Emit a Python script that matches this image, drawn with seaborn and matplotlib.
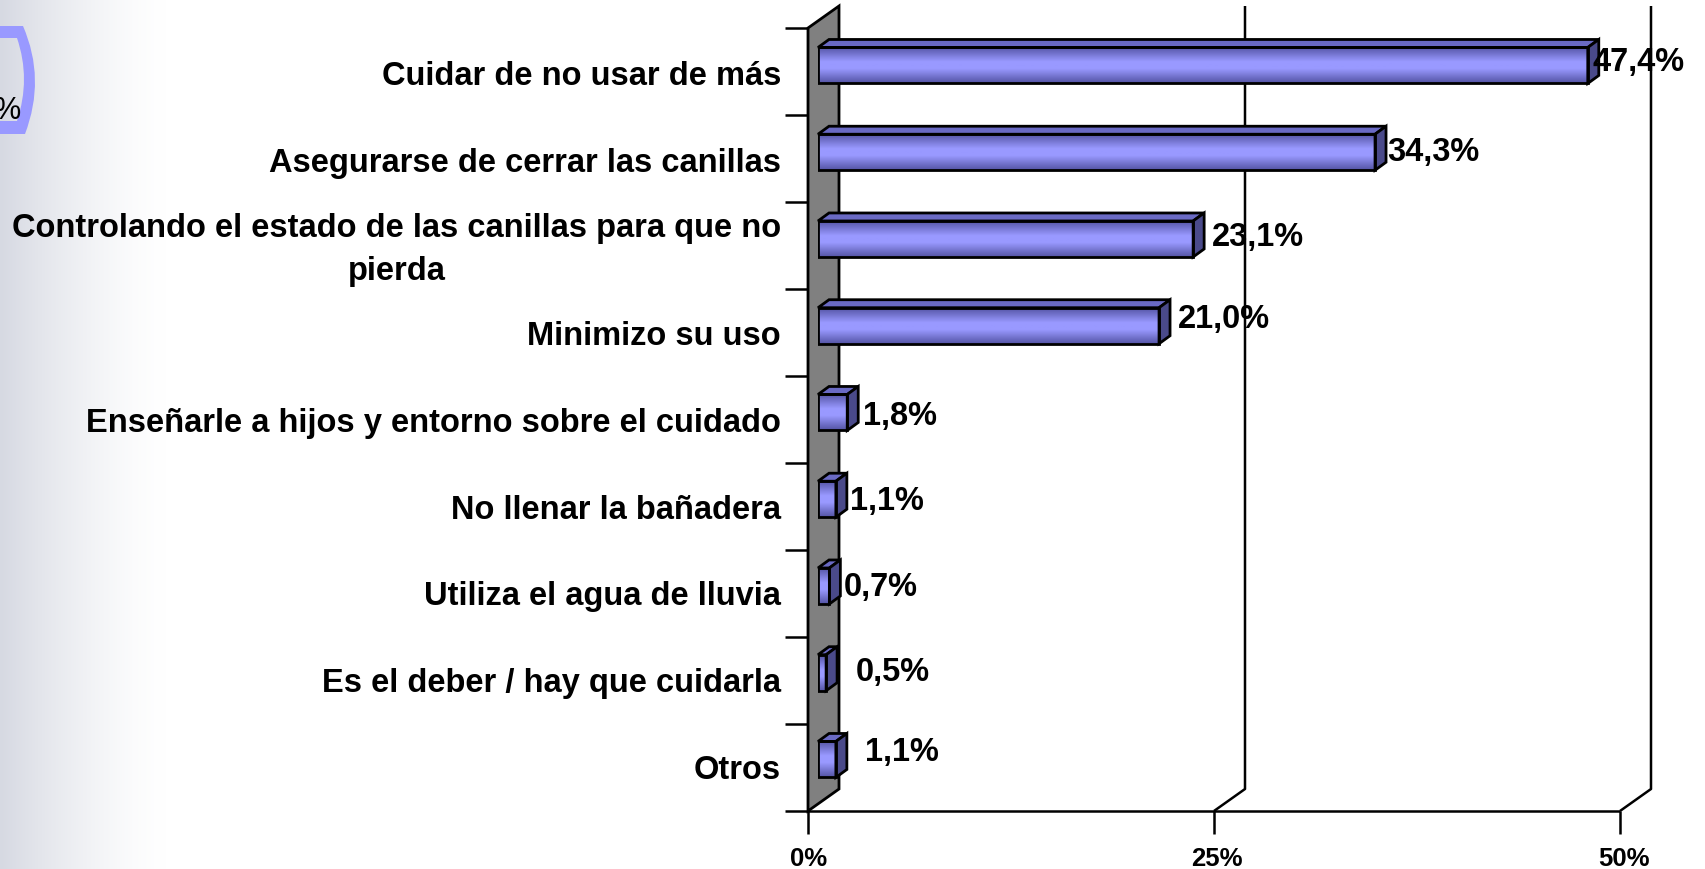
import numpy as np
import pandas as pd
import matplotlib
matplotlib.use('Agg')
import matplotlib.pyplot as plt
from matplotlib.colors import LinearSegmentedColormap
from matplotlib.patches import PathPatch, Polygon
from matplotlib.path import Path
from matplotlib.transforms import ScaledTranslation
import seaborn as sns

# Data
categorias = ['Cuidar de no usar de más',
              'Asegurarse de cerrar las canillas',
              'Controlando el estado de las canillas para que no\npierda',
              'Minimizo su uso',
              'Enseñarle a hijos y entorno sobre el cuidado',
              'No llenar la bañadera',
              'Utiliza el agua de lluvia',
              'Es el deber / hay que cuidarla',
              'Otros']
valores = [47.4, 34.3, 23.1, 21.0, 1.8, 1.1, 0.7, 0.5, 1.1]
etiquetas = ['47,4%', '34,3%', '23,1%', '21,0%', '1,8%', '1,1%', '0,7%', '0,5%', '1,1%']
ticks_x = [0, 25, 50]
ticks_x_labels = ['0%', '25%', '50%']

# Layout, in pixels of the 1706x870 figure
W, H = 1706, 870
BASE_X = 818
PX_PER_PCT = 16.24
TOP_Y, PASO = 23.1, 86.75
DX, DY = 11, 8
WALL_FRONT, WALL_BACK = -10, 21

# nudges of the value labels from the bar end (px)
label_dx = [5, 12, 19, 19, 16, 14, 14, 30, 29]
label_dy = [-3.5, -1, -2, -7, 3, 1, 1, -1, -7.5]
tick_dx = [-9, -7, -6]
cat_dy = [-6.5, -6.5, -1, -6.5, -6.5, -6.5, -6.5, -6.5, -6.5]

sns.set_theme(style='white')
plt.rcParams['font.family'] = ['Liberation Sans', 'DejaVu Sans']
plt.rcParams['font.weight'] = 'bold'

fig = plt.figure(figsize=(W / 100, H / 100), dpi=100)

# background fade on the left side
bg = fig.add_axes([0, 0, 1, 1], zorder=0)
bg.axis('off')
fade = 1 - (1 - np.linspace(0, 1, 256).reshape(1, -1)) ** 1.5
bg.imshow(fade, cmap=LinearSegmentedColormap.from_list('f', ['#d6d9e2', '#ffffff']),
          extent=(0, 170, H, 0), aspect='auto', vmin=0, vmax=1)
bg.set_xlim(0, W)
bg.set_ylim(H, 0)

# piece of the neighbour graphic cut by the left edge
verts = [(0, 27), (23, 27), (46, 80), (25, 135), (0, 135), (0, 122), (17, 122), (31, 80), (17, 39), (0, 39), (0, 27)]
codes = [Path.MOVETO, Path.LINETO, Path.CURVE3, Path.CURVE3, Path.LINETO, Path.LINETO, Path.LINETO,
         Path.CURVE3, Path.CURVE3, Path.LINETO, Path.CLOSEPOLY]
bg.add_patch(PathPatch(Path(verts, codes), fc='#9999ff', ec='none'))
bg.text(21, 111, '%', fontsize=22, ha='right', va='center', color='black', fontweight='normal')

ax = fig.add_axes([BASE_X / W, 1 - (TOP_Y + 9 * PASO) / H, 50 * PX_PER_PCT / W, 9 * PASO / H], zorder=1)
ax.patch.set_alpha(0)

df = pd.DataFrame({'categoria': categorias, 'valor': valores})
sns.barplot(data=df, x='valor', y='categoria', orient='h', color='#9999ff', width=36 / PASO,
            edgecolor='black', linewidth=2, saturation=1, ax=ax, zorder=5)
barras = list(ax.containers[0])
ax.set_xlabel('')
ax.set_ylabel('')
sns.despine(ax=ax, left=True, bottom=True, top=True, right=True)

px = 1 / PX_PER_PCT
py = 1 / PASO
frame_y0 = (29 - TOP_Y) * py - 0.5
frame_y1 = (812 - TOP_Y) * py - 0.5

# side wall
wall = [(WALL_FRONT * px, frame_y0), (WALL_BACK * px, frame_y0 - 22 * py),
        (WALL_BACK * px, frame_y1 - 22 * py), (WALL_FRONT * px, frame_y1)]
ax.add_patch(Polygon(wall, closed=True, fc='#808080', ec='black', lw=2, clip_on=False, zorder=1))

# floor line, left ticks and back grid lines
linea = dict(color='black', lw=1.8, clip_on=False, solid_capstyle='butt', zorder=2)
for k in range(10):
    y = frame_y0 + k * 87 * py
    ax.plot([(WALL_FRONT - 23) * px, WALL_FRONT * px], [y, y], **linea)
ax.plot([WALL_FRONT * px, 50 + WALL_FRONT * px], [frame_y1, frame_y1], **linea)
for t in ticks_x:
    x = t + WALL_FRONT * px
    ax.plot([x, x], [frame_y1, frame_y1 + 23 * py], **linea)
    if t > 0:
        ax.plot([x, x + 31 * px, x + 31 * px], [frame_y1, frame_y1 - 22 * py, frame_y0 - 22 * py], **linea)

# vertical shading of the bar faces
shade = LinearSegmentedColormap.from_list('b', [(0, '#5555a6'), (0.4, '#9999ff'), (0.6, '#9999ff'), (1, '#5555a6')])
grad = np.linspace(0, 1, 64).reshape(-1, 1)
for bar in barras:
    x0, y0, w, h = bar.get_x(), bar.get_y(), bar.get_width(), bar.get_height()
    ax.imshow(grad, cmap=shade, extent=(x0, x0 + w, y0 + h, y0), aspect='auto', zorder=5.2)
    dx, dy = DX * px, DY * py
    ax.add_patch(Polygon([(x0, y0), (x0 + dx, y0 - dy), (x0 + w + dx, y0 - dy), (x0 + w, y0)],
                         closed=True, fc='#6a6ac4', ec='black', lw=2, clip_on=False, zorder=5.4))
    ax.add_patch(Polygon([(x0 + w, y0), (x0 + w + dx, y0 - dy), (x0 + w + dx, y0 + h - dy), (x0 + w, y0 + h)],
                         closed=True, fc='#4a4a8a', ec='black', lw=2, clip_on=False, zorder=5.4))
    bar.set_facecolor('none')
    bar.set_zorder(5.5)
ax.set_xlim(0, 50)
ax.set_ylim(8.5, -0.5)
ax.set_aspect('auto')

# value labels
for i, (v, txt) in enumerate(zip(valores, etiquetas)):
    ax.annotate(txt, (v, i), xytext=(label_dx[i] * 0.72, -label_dy[i] * 0.72), textcoords='offset points',
                ha='left', va='center', fontsize=23.5, fontweight='bold', color='black', zorder=7)

# axis text
ax.set_xticks(ticks_x)
ax.set_xticklabels(ticks_x_labels, fontsize=18.5, fontweight='bold', color='black')
ax.tick_params(axis='x', length=0, pad=31)
for lab, d in zip(ax.get_xticklabels(), tick_dx):
    lab.set_transform(lab.get_transform() + ScaledTranslation(d / 100, 0, fig.dpi_scale_trans))
ax.set_yticks(range(len(categorias)))
ax.set_yticklabels(categorias, fontsize=23.5, fontweight='bold', color='black',
                   multialignment='center', linespacing=1.5)
ax.tick_params(axis='y', length=0, pad=26.6)
for lab, d in zip(ax.get_yticklabels(), cat_dy):
    lab.set_transform(lab.get_transform() + ScaledTranslation(0, d / 100, fig.dpi_scale_trans))

fig.savefig('out.png', dpi=100)
